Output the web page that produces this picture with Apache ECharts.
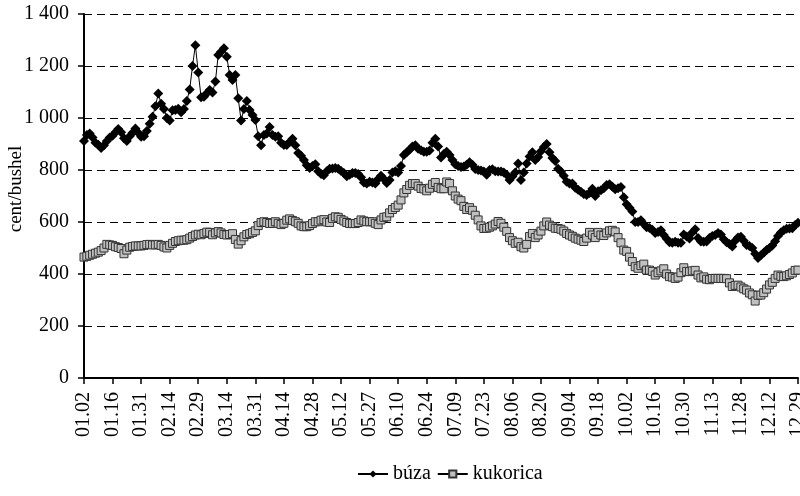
<!DOCTYPE html>
<html>
<head>
<meta charset="utf-8">
<script src="https://cdn.jsdelivr.net/npm/echarts@6/dist/echarts.min.js"></script>
<style>
  html, body { margin: 0; padding: 0; background: #fff; }
  #chart { width: 800px; height: 496px; }
</style>
</head>
<body>
<div id="chart"></div>
<script>
// tick labels, one every 10 trading days
var tickLabels = ['01.02', '01.16', '01.31', '02.14', '02.29', '03.14', '03.31', '04.14', '04.28',
  '05.12', '05.27', '06.10', '06.24', '07.09', '07.23', '08.06', '08.20', '09.04', '09.18',
  '10.02', '10.16', '10.30', '11.13', '11.28', '12.12', '12.29'];

var seriesNames = ['búza', 'kukorica'];

// búza (cent/bushel), daily
var buza = [
  912, 935, 940, 925, 905, 897, 885, 895, 912, 925,
  932, 945, 958, 945, 922, 912, 930, 943, 960, 943,
  928, 930, 950, 978, 1005, 1045, 1094, 1055, 1035, 1000,
  990, 1030, 1031, 1036, 1022, 1035, 1065, 1110, 1200, 1280,
  1175, 1080, 1082, 1095, 1108, 1098, 1140, 1242, 1255, 1268,
  1236, 1165, 1146, 1165, 1076, 990, 1035, 1065, 1031, 1012,
  992, 930, 895, 935, 940, 965, 935, 928, 930, 905,
  896, 896, 908, 920, 895, 865, 855, 838, 818, 808,
  815, 822, 795, 785, 780, 795, 805, 806, 808, 805,
  796, 788, 776, 782, 788, 788, 785, 772, 752, 748,
  755, 752, 748, 765, 778, 765, 750, 762, 790, 795,
  790, 815, 858, 868, 878, 890, 895, 882, 876, 870,
  870, 875, 905, 920, 890, 848, 862, 870, 858, 838,
  822, 815, 812, 813, 820, 830, 820, 804, 800, 798,
  794, 782, 800, 803, 795, 794, 794, 790, 782, 762,
  775, 790, 825, 762, 790, 825, 852, 868, 838, 850,
  872, 888, 900, 868, 846, 835, 805, 794, 778, 755,
  748, 748, 732, 724, 716, 708, 704, 712, 728, 700,
  718, 722, 730, 742, 745, 736, 726, 730, 735, 695,
  668, 655, 640, 600, 600, 607, 592, 580, 577, 570,
  558, 562, 568, 550, 536, 522, 520, 524, 520, 520,
  552, 544, 537, 560, 572, 538, 525, 524, 525, 538,
  546, 550, 558, 552, 534, 522, 515, 506, 528, 540,
  543, 528, 512, 508, 500, 478, 462, 472, 482, 492,
  500, 510, 526, 546, 560, 568, 574, 575, 576, 588, 597
];

// kukorica (cent/bushel), daily
var kukorica = [
  465, 468, 472, 476, 480, 484, 490, 500, 514, 512,
  510, 505, 502, 498, 478, 492, 503, 506, 508, 508,
  508, 510, 513, 514, 512, 512, 514, 510, 504, 500,
  510, 518, 525, 528, 530, 530, 532, 538, 544, 550,
  553, 551, 556, 561, 560, 551, 558, 563, 558, 552,
  550, 552, 555, 533, 515, 528, 543, 552, 555, 560,
  566, 586, 598, 601, 598, 594, 595, 601, 595, 590,
  595, 607, 612, 606, 601, 595, 585, 582, 582, 586,
  594, 601, 601, 607, 609, 600, 598, 614, 620, 618,
  610, 604, 598, 594, 594, 594, 598, 608, 604, 601,
  601, 601, 595, 590, 608, 618, 620, 635, 648, 656,
  665, 685, 712, 725, 741, 748, 748, 738, 729, 727,
  720, 730, 745, 752, 733, 728, 728, 754, 748, 720,
  700, 688, 682, 660, 648, 655, 645, 626, 608, 585,
  575, 576, 580, 585, 592, 602, 595, 580, 564, 540,
  528, 518, 522, 505, 500, 514, 544, 556, 540, 550,
  565, 585, 600, 588, 582, 576, 575, 572, 565, 556,
  550, 545, 538, 534, 530, 525, 538, 560, 550, 540,
  560, 550, 548, 558, 566, 568, 562, 540, 520, 492,
  487, 465, 448, 428, 422, 432, 438, 415, 415, 410,
  396, 405, 412, 420, 400, 390, 388, 383, 388, 405,
  424, 410, 409, 412, 414, 396, 385, 389, 380, 378,
  383, 383, 383, 383, 383, 382, 366, 352, 356, 357,
  350, 343, 338, 327, 320, 296, 318, 319, 328, 342,
  358, 368, 383, 396, 391, 390, 393, 398, 404, 414, 415
];

var days = buza.map(function (v, i) { return i; });
var FONT = '"Liberation Serif", "Times New Roman", serif';

var myChart = echarts.init(document.getElementById('chart'), null, { renderer: 'canvas' });

var option = {
  animation: false,
  backgroundColor: '#fff',
  grid: {
    left: 84,
    right: 2,
    top: 14,
    bottom: 118,
    containLabel: false,
    outerBoundsMode: 'none'
  },
  legend: {
    data: seriesNames,
    top: 459,
    left: 352,
    itemWidth: 30,
    itemHeight: 9,
    itemGap: 6,
    textStyle: { fontFamily: FONT, fontSize: 20, color: '#000' }
  },
  xAxis: {
    type: 'category',
    boundaryGap: false,
    data: days,
    axisLine: { lineStyle: { color: '#000', width: 2 } },
    axisTick: {
      interval: function (i) { return i % 10 === 0; },
      length: 6,
      lineStyle: { color: '#000', width: 1.5 }
    },
    axisLabel: {
      interval: function (i) { return i % 10 === 0; },
      rotate: 90,
      margin: 14,
      fontFamily: FONT,
      fontSize: 20,
      color: '#000',
      formatter: function (v, i) { return tickLabels[i / 10] || ''; }
    },
    splitLine: { show: false }
  },
  yAxis: {
    type: 'value',
    min: 0,
    max: 1400,
    interval: 200,
    name: 'cent/bushel',
    nameLocation: 'middle',
    nameGap: 58,
    nameMoveOverlap: false,
    nameTextStyle: {
      fontFamily: FONT,
      fontSize: 19,
      color: '#000',
      width: 80,
      overflow: 'truncate',
      ellipsis: '',
      padding: [0, 0, 0, 14]
    },
    axisLine: { show: true, lineStyle: { color: '#000', width: 2 } },
    axisTick: { show: true, length: 6, lineStyle: { color: '#000', width: 1.5 } },
    axisLabel: {
      margin: 15,
      fontFamily: FONT,
      fontSize: 20,
      color: '#000',
      formatter: function (v) { return String(v).replace(/\B(?=(\d{3})+(?!\d))/g, ' '); }
    },
    splitLine: { lineStyle: { color: '#000', width: 1, type: [8, 5] } }
  },
  series: [
    {
      name: seriesNames[0],
      type: 'line',
      data: buza,
      symbol: 'diamond',
      symbolSize: 10,
      showAllSymbol: true,
      itemStyle: { color: '#000' },
      lineStyle: { color: '#000', width: 1 }
    },
    {
      name: seriesNames[1],
      type: 'line',
      data: kukorica,
      symbol: 'rect',
      symbolSize: 8,
      showAllSymbol: true,
      itemStyle: { color: '#c0c0c0', borderColor: '#333', borderWidth: 1 },
      lineStyle: { color: '#000', width: 1 }
    }
  ]
};

myChart.setOption(option);
</script>
</body>
</html>
